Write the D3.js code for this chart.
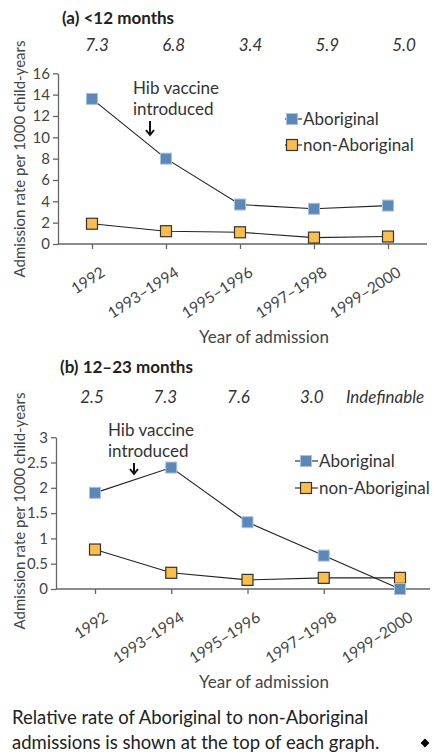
<!DOCTYPE html>
<html>
<head>
<meta charset="utf-8">
<script src="https://cdn.jsdelivr.net/npm/d3@7"></script>
<style>
  body { margin: 0; background: #fff; }
  text { font-family: Lato, "Open Sans", sans-serif; fill: #333; }
  .axis text { font-size: 15px; fill: #444; }
  .axis line, .axis path { stroke: #666; stroke-width: 1.3px; }
</style>
</head>
<body>
<div id="chart"></div>
<script>
(function() {
  var periods = ["1992", "1993\u20131994", "1995\u20131996", "1997\u20131998", "1999\u20132000"];

  // (a) <12 months
  var aborigA = [13.6, 8.0, 3.7, 3.3, 3.6];
  var nonAborigA = [1.9, 1.2, 1.1, 0.6, 0.7];
  var ratesA = ["7.3", "6.8", "3.4", "5.9", "5.0"];
  var ticksA = [0, 2, 4, 6, 8, 10, 12, 14, 16];

  // (b) 12-23 months
  var aborigB = [1.9, 2.4, 1.32, 0.66, 0];
  var nonAborigB = [0.78, 0.32, 0.18, 0.22, 0.22];
  var ratesB = ["2.5", "7.3", "7.6", "3.0", "Indefinable"];
  var ticksB = [0, 0.5, 1, 1.5, 2, 2.5, 3];

  var seriesNames = ["Aboriginal", "non-Aboriginal"];

  var svg = d3.select("#chart").append("svg")
      .attr("width", 434)
      .attr("height", 756);

  svg.append("rect").attr("width", 434).attr("height", 756).attr("fill", "#fff");

  function marker(g, cx, cy, kind) {
    if (kind == 0) {
      g.append("rect")
          .attr("x", cx - 5.5).attr("y", cy - 5.5)
          .attr("width", 11).attr("height", 11)
          .attr("fill", "#5b87b9")
          .attr("stroke", "#a9c1dd")
          .attr("stroke-width", 1);
    } else {
      g.append("rect")
          .attr("x", cx - 5.5).attr("y", cy - 5.5)
          .attr("width", 11).attr("height", 11)
          .attr("fill", "#fbbd4c")
          .attr("stroke", "#333")
          .attr("stroke-width", 1.2);
    }
  }

  function drawPanel(p) {
    var g = svg.append("g");

    var x = d3.scalePoint().domain(periods).range([p.x0, p.x1]);
    var y = d3.scaleLinear().domain([0, p.max]).range([p.bottom, p.top]);
    var rx = d3.scalePoint().domain(periods).range(p.rateRange);

    g.append("text")
        .attr("x", p.left + 4)
        .attr("y", p.titleY)
        .style("font-size", "17px")
        .style("font-weight", "bold")
        .style("fill", "#222")
        .text(p.title);

    g.selectAll(".rate")
        .data(p.rates)
      .enter().append("text")
        .attr("class", "rate")
        .attr("x", (d, i) => rx(periods[i]))
        .attr("y", p.rateY)
        .attr("text-anchor", "middle")
        .style("font-size", "17px")
        .style("font-style", "italic")
        .text(d => d);

    // y axis
    g.append("g")
        .attr("class", "axis")
        .attr("transform", "translate(" + p.left + ",0)")
        .call(d3.axisLeft(y).tickValues(p.ticks).tickSize(5).tickSizeOuter(0).tickPadding(3)
          .tickFormat(d3.format("")));

    // x axis
    var xa = g.append("g")
        .attr("class", "axis")
        .attr("transform", "translate(0," + p.bottom + ")")
        .call(d3.axisBottom(x).tickSize(5).tickSizeOuter(0).tickFormat(""));
    xa.select(".domain").remove();
    xa.append("line")
        .attr("x1", p.left).attr("x2", p.right)
        .attr("y1", 0).attr("y2", 0);

    g.selectAll(".xlab")
        .data(periods)
      .enter().append("text")
        .attr("class", "xlab")
        .attr("text-anchor", "end")
        .attr("transform", d => "translate(" + (x(d) + 14) + "," + (p.bottom + 31) + ") rotate(-33)")
        .style("font-size", "15.5px")
        .style("fill", "#444")
        .text(d => d);

    g.append("text")
        .attr("x", 264)
        .attr("y", p.bottom + 99)
        .attr("text-anchor", "middle")
        .style("font-size", "17px")
        .style("fill", "#444")
        .text("Year of admission");

    g.append("text")
        .attr("transform", "translate(25," + p.labelCy + ") rotate(-90)")
        .attr("text-anchor", "middle")
        .style("font-size", "15px")
        .style("fill", "#444")
        .text("Admission rate per 1000 child-years");

    // lines + markers
    var line = d3.line()
        .x((d, i) => x(periods[i]))
        .y(d => y(d));

    [p.aborig, p.nonAborig].forEach(function(vals) {
      g.append("path")
          .attr("d", line(vals))
          .attr("fill", "none")
          .attr("stroke", "#222")
          .attr("stroke-width", 1.1);
    });
    [p.nonAborig, p.aborig].forEach(function(vals, j) {
      var k = 1 - j;
      vals.forEach(function(v, i) { marker(g, x(periods[i]), y(v), k); });
    });

    // legend
    seriesNames.forEach(function(name, k) {
      var ly = p.legendY + k * p.legendGap;
      g.append("line")
          .attr("x1", p.legendX - p.legendL).attr("x2", p.legendX + p.legendR)
          .attr("y1", ly).attr("y2", ly)
          .attr("stroke", "#222").attr("stroke-width", 1.1);
      marker(g, p.legendX, ly, k);
      g.append("text")
          .attr("x", p.legendX + p.legendR + 1)
          .attr("y", ly + 6)
          .style("font-size", "17px")
          .text(name);
    });

    // annotation
    g.append("text")
        .attr("x", p.noteX)
        .attr("y", p.noteY)
        .style("font-size", "17px")
        .text("Hib vaccine");
    g.append("text")
        .attr("x", p.noteX)
        .attr("y", p.noteY + 21)
        .style("font-size", "17px")
        .text("introduced");
    g.append("path")
        .attr("d", "M" + p.arrowX + "," + p.arrowY0 + "V" + p.arrowY1 +
          "M" + (p.arrowX - 4) + "," + (p.arrowY1 - 5) + "L" + p.arrowX + "," + p.arrowY1 +
          "L" + (p.arrowX + 4) + "," + (p.arrowY1 - 5))
        .attr("fill", "none")
        .attr("stroke", "#111")
        .attr("stroke-width", 2);
  }

  drawPanel({
    title: "(a) <12 months", titleY: 24,
    rates: ratesA, rateY: 51, rateRange: [97, 404],
    aborig: aborigA, nonAborig: nonAborigA, ticks: ticksA, max: 16,
    left: 58, right: 427, top: 73.3, bottom: 244, x0: 92, x1: 388,
    labelCy: 159,
    legendX: 292, legendL: 7, legendR: 10, legendY: 119, legendGap: 26,
    noteX: 133, noteY: 94, arrowX: 150, arrowY0: 121, arrowY1: 135
  });

  drawPanel({
    title: "(b) 12\u201323 months", titleY: 373,
    rates: ratesB, rateY: 403, rateRange: [92, 385],
    aborig: aborigB, nonAborig: nonAborigB, ticks: ticksB, max: 3,
    left: 56, right: 430, top: 437.2, bottom: 589, x0: 95, x1: 400,
    labelCy: 511,
    legendX: 306, legendL: 11, legendR: 12, legendY: 461, legendGap: 27,
    noteX: 108, noteY: 436, arrowX: 134, arrowY0: 463, arrowY1: 474
  });

  svg.append("text")
      .attr("x", 12).attr("y", 724)
      .style("font-size", "18.5px")
      .style("fill", "#222")
      .text("Relative rate of Aboriginal to non-Aboriginal");
  svg.append("text")
      .attr("x", 12).attr("y", 749)
      .style("font-size", "18.5px")
      .style("fill", "#222")
      .text("admissions is shown at the top of each graph.");
  svg.append("path")
      .attr("d", d3.symbol().type(d3.symbolDiamond2).size(50)())
      .attr("transform", "translate(425,743)")
      .attr("fill", "#000");
})();
</script>
</body>
</html>
